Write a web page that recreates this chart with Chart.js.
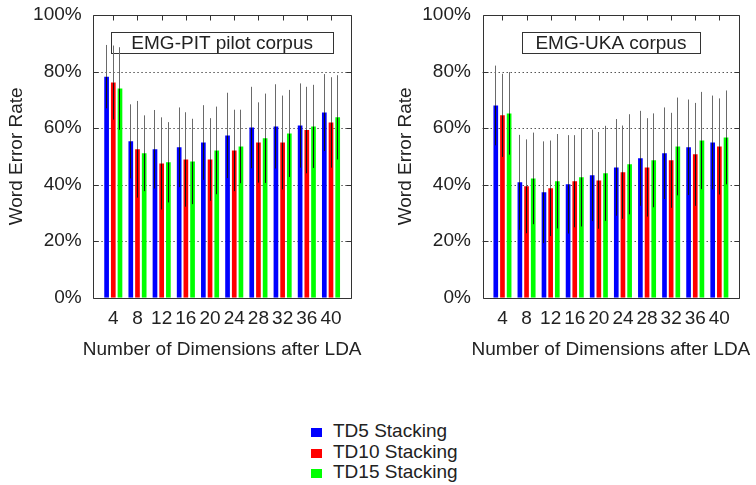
<!DOCTYPE html>
<html>
<head>
<meta charset="utf-8">
<script src="https://cdn.jsdelivr.net/npm/chart.js@4.4.1/dist/chart.umd.min.js"></script>
<style>
  body { margin: 0; background: #fff; width: 756px; height: 485px; position: relative; overflow: hidden; }
  canvas { position: absolute; top: 0; }
  #legend { position: absolute; left: 311px; top: 421px; font: 19px "Liberation Sans", Arial, sans-serif; color: #222; }
  #legend div { height: 20.5px; line-height: 20.5px; white-space: nowrap; }
  #legend span { display: inline-block; width: 11px; height: 9px; margin-right: 11px; vertical-align: 0px; }
</style>
</head>
<body>
<canvas id="pit" width="378" height="370" style="left:0"></canvas>
<canvas id="uka" width="378" height="370" style="left:378px"></canvas>
<div id="legend"></div>
<script>
// x categories: number of dimensions after LDA
var dims = ['4', '8', '12', '16', '20', '24', '28', '32', '36', '40'];
var yTicks = [0, 20, 40, 60, 80, 100];
var seriesNames = ['TD5 Stacking', 'TD10 Stacking', 'TD15 Stacking'];
var seriesColors = ['#0000ff', '#ff0000', '#00ff00'];
var xTitle = 'Number of Dimensions after LDA';
var yTitle = 'Word Error Rate';

// EMG-PIT pilot corpus, word error rate in %
var pitTd5 = [78.2, 55.3, 52.5, 53.2, 54.9, 57.4, 60.2, 60.6, 60.9, 65.5];
var pitTd10 = [76.1, 52.5, 47.5, 48.9, 48.9, 52.1, 54.9, 54.9, 59.3, 62.0];
var pitTd15 = [74.0, 51.1, 47.9, 48.2, 52.1, 53.5, 56.4, 58.1, 60.6, 63.8];
// error bar half widths
var pitErr5 = [11.2, 13.1, 13.9, 14.1, 13.2, 15.1, 14.4, 14.9, 14.9, 13.6];
var pitErr10 = [13.1, 17.1, 16.3, 16.7, 14.6, 14.4, 14.2, 16.6, 15.3, 16.0];
var pitErr15 = [14.6, 13.4, 14.2, 15.1, 15.5, 13.0, 15.8, 15.4, 14.7, 14.9];

// EMG-UKA corpus
var ukaTd5 = [68.0, 40.8, 37.3, 40.1, 43.3, 46.1, 49.3, 51.1, 53.2, 54.9];
var ukaTd10 = [64.5, 39.4, 38.7, 41.2, 41.5, 44.4, 46.1, 48.6, 50.7, 53.5];
var ukaTd15 = [65.2, 42.2, 41.2, 42.6, 44.0, 47.2, 48.6, 53.5, 55.6, 56.7];
var ukaErr5 = [14.1, 16.8, 18.0, 17.4, 16.2, 17.1, 16.8, 16.2, 16.9, 16.6];
var ukaErr10 = [14.7, 16.6, 16.9, 16.3, 17.1, 16.5, 17.4, 16.8, 18.2, 17.0];
var ukaErr15 = [14.6, 16.2, 16.7, 17.4, 16.8, 17.7, 16.6, 17.3, 17.2, 16.6];

var FONT = '"Liberation Sans", Arial, sans-serif';
var TEXT = '#222';

// frame, dotted grid, boxed title, error bars
var framePlugin = {
    id: 'frame',
    beforeDatasetsDraw: function (chart, args, opts) {
        var ctx = chart.ctx, a = chart.chartArea, y = chart.scales.y;
        var L = a.left - opts.inset, R = a.right + opts.inset;
        ctx.save();
        ctx.strokeStyle = '#555';
        ctx.lineWidth = 1;
        ctx.setLineDash([1.5, 2.5]);
        yTicks.forEach(function (v) {
            if (v === 0 || v === 100) return;
            var py = Math.round(y.getPixelForValue(v)) + 0.5;
            ctx.beginPath(); ctx.moveTo(L, py); ctx.lineTo(R, py); ctx.stroke();
        });
        ctx.setLineDash([]);
        // title box
        var cx = (L + R) / 2;
        var bx = Math.round(cx - opts.boxWidth / 2) + 0.5;
        ctx.strokeStyle = '#333';
        ctx.strokeRect(bx, 32.5, Math.round(opts.boxWidth), 21);
        ctx.fillStyle = TEXT;
        ctx.font = '19px ' + FONT;
        ctx.textAlign = 'center';
        ctx.textBaseline = 'middle';
        ctx.fillText(opts.title, cx, 43.5);
        // x axis title (wider than the plot, so drawn here unsqueezed)
        ctx.fillText(xTitle, (a.left + a.right) / 2, 349.5);
        ctx.restore();
    },
    afterDatasetsDraw: function (chart, args, opts) {
        var ctx = chart.ctx, a = chart.chartArea, y = chart.scales.y, x = chart.scales.x;
        var L = Math.round(a.left - opts.inset) + 0.5, R = Math.round(a.right + opts.inset) + 0.5;
        var T = Math.round(a.top) + 0.5, B = Math.round(a.bottom) + 0.5;
        ctx.save();
        ctx.lineWidth = 1;
        chart.data.datasets.forEach(function (ds, i) {
            var meta = chart.getDatasetMeta(i);
            meta.data.forEach(function (bar, j) {
                var v = ds.data[j], e = ds.errors[j];
                var px = Math.floor(bar.x) + 0.5;
                var top = y.getPixelForValue(v + e), mid = y.getPixelForValue(v), bot = y.getPixelForValue(v - e);
                ctx.strokeStyle = '#6a6a6a';
                ctx.beginPath(); ctx.moveTo(px, top); ctx.lineTo(px, mid); ctx.stroke();
                ctx.strokeStyle = '#111';
                ctx.beginPath(); ctx.moveTo(px, mid); ctx.lineTo(px, bot); ctx.stroke();
            });
        });
        ctx.strokeStyle = '#333';
        ctx.beginPath();
        ctx.rect(L, T, R - L, B - T);
        ctx.stroke();
        // y tick marks on both sides
        yTicks.forEach(function (v) {
            var py = Math.round(y.getPixelForValue(v)) + 0.5;
            ctx.beginPath();
            ctx.moveTo(L, py); ctx.lineTo(L + 5, py);
            ctx.moveTo(R, py); ctx.lineTo(R - 5, py);
            ctx.stroke();
        });
        // x tick marks along the top
        dims.forEach(function (d, i) {
            var px = Math.round(x.getPixelForTick(i)) + 0.5;
            ctx.beginPath(); ctx.moveTo(px, T); ctx.lineTo(px, T + 5); ctx.stroke();
        });
        ctx.restore();
    }
};

function makeDatasets(values, errors) {
    return values.map(function (vals, i) {
        return {
            label: seriesNames[i],
            data: vals,
            errors: errors[i],
            backgroundColor: seriesColors[i],
            borderWidth: 0,
            categoryPercentage: 0.83,
            barPercentage: 0.7
        };
    });
}

function renderChart(id, values, errors, title, boxWidth, padLeft, padRight) {
    var ctx = document.getElementById(id).getContext('2d');
    return new Chart(ctx, {
        type: 'bar',
        data: { labels: dims, datasets: makeDatasets(values, errors) },
        options: {
            responsive: false,
            animation: false,
            devicePixelRatio: 1,
            layout: { padding: { left: padLeft, right: padRight, top: 15, bottom: 0 } },
            plugins: {
                legend: { display: false },
                tooltip: { enabled: false },
                frame: { inset: 7.9, title: title, boxWidth: boxWidth }
            },
            scales: {
                x: {
                    grid: { display: false, drawTicks: false },
                    border: { display: false },
                    ticks: { color: TEXT, font: { family: FONT, size: 19 }, padding: 10, maxRotation: 0, autoSkip: false },
                    afterFit: function (s) { s.height = 370 - 297.7; }
                },
                y: {
                    min: 0, max: 100,
                    afterBuildTicks: function (s) { s.ticks = yTicks.map(function (v) { return { value: v }; }); },
                    grid: { display: false, drawTicks: false },
                    border: { display: false },
                    ticks: { color: TEXT, font: { family: FONT, size: 19 }, padding: 19.5, callback: function (v) { return v + '%'; } },
                    title: { display: true, text: yTitle, color: TEXT, font: { family: FONT, size: 19 }, padding: { top: 5, bottom: 0 } },
                    afterFit: function (s) { s.width = 101.2; s.paddingTop = 0; s.paddingBottom = 0; }
                }
            }
        },
        plugins: [framePlugin]
    });
}

renderChart('pit', [pitTd5, pitTd10, pitTd15], [pitErr5, pitErr10, pitErr15], 'EMG-PIT pilot corpus', 222, 0, 378 - 343.1);
renderChart('uka', [ukaTd5, ukaTd10, ukaTd15], [ukaErr5, ukaErr10, ukaErr15], 'EMG-UKA corpus', 178, 11.2, 378 - 353.4);

var legend = document.getElementById('legend');
seriesNames.forEach(function (name, i) {
    var row = document.createElement('div');
    var sw = document.createElement('span');
    sw.style.background = seriesColors[i];
    row.appendChild(sw);
    row.appendChild(document.createTextNode(name));
    legend.appendChild(row);
});
</script>
</body>
</html>
